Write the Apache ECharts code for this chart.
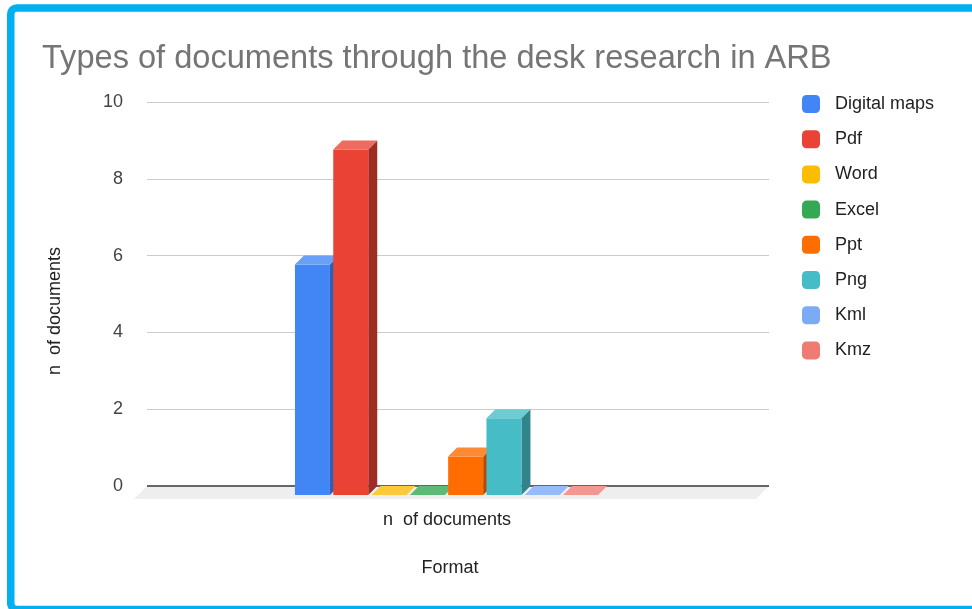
<!DOCTYPE html>
<html>
<head>
<meta charset="utf-8">
<title>Types of documents through the desk research in ARB</title>
<script src="https://cdn.jsdelivr.net/npm/echarts@6/dist/echarts.min.js"></script>
<style>
  html, body { margin: 0; padding: 0; background: #ffffff; }
  #chart { width: 972px; height: 609px; }
</style>
</head>
<body>
<div id="chart"></div>
<script>
// Chart data
const categories = ['n  of documents'];
const seriesNames = ['Digital maps', 'Pdf', 'Word', 'Excel', 'Ppt', 'Png', 'Kml', 'Kmz'];
const seriesValues = [6, 9, 0, 0, 1, 2, 0, 0];
const yTicks = { min: 0, max: 10, interval: 2 };

// Face colours for the 3D columns: front, right side, top
const frontColors = ['#4285F4', '#EA4335', '#FBBC04', '#34A853', '#FF6D01', '#46BDC6', '#7BAAF7', '#F07B72'];
const sideColors  = ['#2F5FAE', '#9E2D24', '#B08403', '#24763B', '#B34C01', '#31848B', '#5677AD', '#A85650'];
const topColors   = ['#6AA0F7', '#EF6B5F', '#FCC93A', '#5DBA76', '#FF8A34', '#6ECBD2', '#96BBF9', '#F39890'];

const FONT = 'Arial, "Liberation Sans", sans-serif';
const BAR_W = 35;      // column width in px
const STEP = 38.3;     // distance between neighbouring columns
const DEPTH = 9;       // column depth offset
const FLOOR = 13;      // floor depth offset
const GROUP_SHIFT = -2.5; // horizontal nudge of the column group

const chart = echarts.init(document.getElementById('chart'), null, { renderer: 'canvas' });

function columnRenderer(i) {
  return function (params, api) {
    const base = api.coord([api.value(0), 0]);
    const top = api.coord([api.value(0), api.value(1)]);
    const cx = base[0] + GROUP_SHIFT + (i - (seriesNames.length - 1) / 2) * STEP;
    const x0 = cx - BAR_W / 2 - DEPTH;
    const x1 = cx + BAR_W / 2 - DEPTH;
    const yt = top[1] + DEPTH;
    const yb = base[1] + DEPTH;
    return {
      type: 'group',
      children: [
        {
          type: 'polygon',
          shape: { points: [[x1, yt], [x1 + DEPTH, yt - DEPTH], [x1 + DEPTH, yb - DEPTH], [x1, yb]] },
          style: { fill: sideColors[i] }
        },
        {
          type: 'rect',
          shape: { x: x0, y: yt, width: BAR_W, height: yb - yt },
          style: { fill: frontColors[i] }
        },
        {
          type: 'polygon',
          shape: { points: [[x0, yt], [x1, yt], [x1 + DEPTH, yt - DEPTH], [x0 + DEPTH, yt - DEPTH]] },
          style: { fill: topColors[i] }
        }
      ]
    };
  };
}

// Floor of the 3D plot, with the dark baseline along its back edge
const floorSeries = {
  type: 'custom',
  name: '__floor',
  silent: true,
  z: 1,
  data: [[0, 0]],
  encode: { x: 0, y: 1 },
  renderItem: function (params, api) {
    const cs = params.coordSys;
    const y = api.coord([0, 0])[1];
    const l = cs.x, r = cs.x + cs.width;
    return {
      type: 'group',
      children: [
        {
          type: 'polygon',
          shape: { points: [[l, y], [r, y], [r - FLOOR, y + FLOOR], [l - FLOOR, y + FLOOR]] },
          style: { fill: '#eeeeee' }
        },
        {
          type: 'line',
          shape: { x1: l, y1: y, x2: r, y2: y },
          style: { stroke: '#666666', lineWidth: 2 }
        }
      ]
    };
  }
};

const barSeries = seriesNames.map(function (name, i) {
  return {
    type: 'custom',
    name: name,
    z: 2,
    itemStyle: { color: frontColors[i] },
    data: categories.map(function (c, k) { return [k, seriesValues[i]]; }),
    encode: { x: 0, y: 1 },
    renderItem: columnRenderer(i)
  };
});

chart.setOption({
  animation: false,
  backgroundColor: '#ffffff',
  title: {
    text: 'Types of documents through the desk research in ARB',
    left: 37,
    top: 38,
    textStyle: { fontFamily: FONT, fontSize: 32.6, fontWeight: 'normal', color: '#757575' }
  },
  legend: {
    data: seriesNames,
    orient: 'vertical',
    left: 797,
    top: 90,
    icon: 'roundRect',
    itemWidth: 18,
    itemHeight: 18,
    itemGap: 17.2,
    textStyle: { fontFamily: FONT, fontSize: 18, color: '#222222', padding: [0, 0, 0, 10] }
  },
  grid: { left: 147, right: 203, top: 102, bottom: 123, containLabel: false },
  xAxis: {
    type: 'category',
    data: categories,
    name: 'Format',
    nameLocation: 'middle',
    nameGap: 73,
    nameTextStyle: { fontFamily: FONT, fontSize: 18, color: '#222222', padding: [0, 16, 0, 0] },
    axisLine: { show: false },
    axisTick: { show: false },
    axisLabel: { fontFamily: FONT, fontSize: 18, color: '#222222', margin: 25, padding: [0, 22, 0, 0] }
  },
  yAxis: {
    type: 'value',
    min: yTicks.min,
    max: yTicks.max,
    interval: yTicks.interval,
    name: 'n  of documents',
    nameLocation: 'middle',
    nameGap: 83,
    nameTextStyle: { fontFamily: FONT, fontSize: 18, color: '#222222', padding: [0, 34, 0, 0] },
    axisLine: { show: false },
    axisTick: { show: false },
    axisLabel: { fontFamily: FONT, fontSize: 18, color: '#444444', margin: 24 },
    splitLine: { lineStyle: { color: '#cccccc', width: 1 } }
  },
  graphic: [
    {
      type: 'rect',
      silent: true,
      z: 100,
      shape: { x: 10.75, y: 8, width: 1000, height: 601.5, r: 6 },
      style: { fill: 'none', stroke: '#00B0F0', lineWidth: 7.5 }
    }
  ],
  series: [floorSeries].concat(barSeries)
});
</script>
</body>
</html>
